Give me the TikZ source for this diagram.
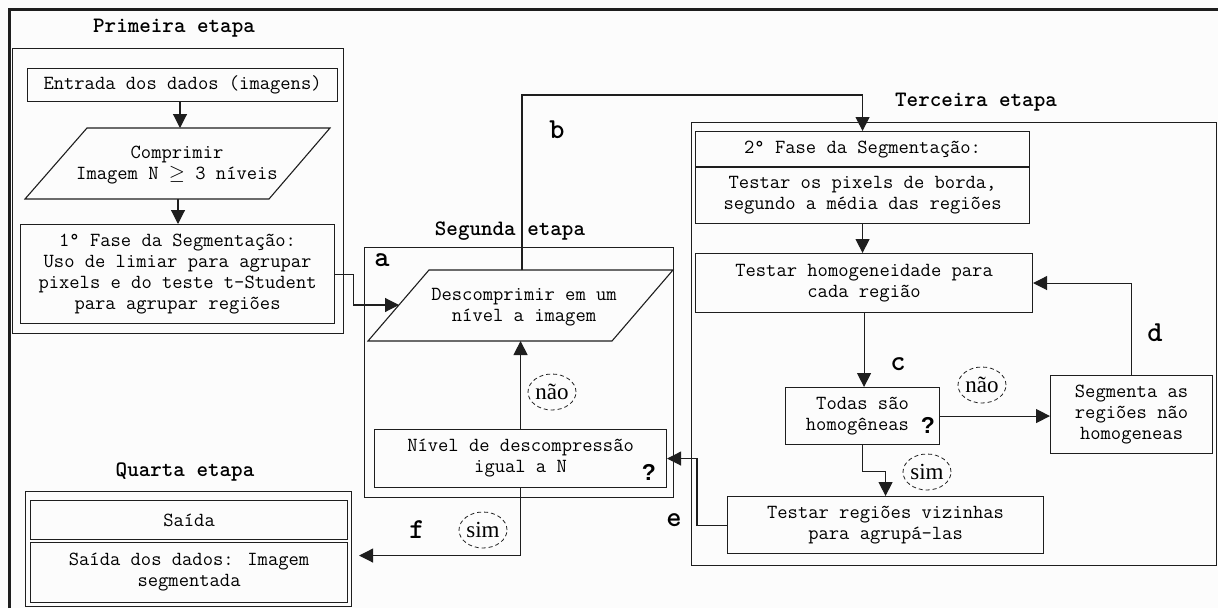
\documentclass[tikz,border=0pt]{standalone}
\usepackage{fontspec}
\usetikzlibrary{arrows.meta,shapes.geometric}
\newfontfamily\qfont{Liberation Sans}
\newfontfamily\serifb{Liberation Serif}
\definecolor{ln}{HTML}{1E1E1E}
\definecolor{bg}{HTML}{FCFCFC}
\begin{document}
\begin{tikzpicture}[x=1pt,y=-1pt,
  every node/.style={font=\ttfamily\fontsize{20}{21}\selectfont, text=black},
  box/.style={draw=ln, line width=1.1pt, inner sep=0pt, align=center, anchor=north west},
  frame/.style={draw=ln, line width=1.1pt, inner sep=0pt, anchor=north west},
  para/.style={draw=ln, line width=1.1pt},
  title/.style={font=\ttfamily\bfseries\fontsize{22}{22}\selectfont},
  lbl/.style={font=\ttfamily\bfseries\fontsize{29}{29}\selectfont},
  qm/.style={font=\qfont\bfseries\fontsize{23}{23}\selectfont},
  ell/.style={draw=ln, dashed, dash pattern=on 4pt off 3pt, ellipse, minimum width=48pt, minimum height=36pt, inner sep=0pt, line width=0.8pt, font=\serifb\fontsize{23}{23}\selectfont},
  conn/.style={draw=ln, line width=1.1pt, -{Triangle[width=14pt,length=14pt]}}
]
\fill[bg] (0,0) rectangle (1218,608);
\useasboundingbox (0,0) rectangle (1218,608);
\draw[line width=3pt, ln] (9,608) -- (9,9) -- (1218,9);

% ---------- Primeira etapa
\node[title] (primT) at (174,28) {Primeira etapa};
\node[frame, minimum width=331pt, minimum height=285pt] (prim) at (12,48) {};
\node[box, minimum width=310pt, minimum height=33pt] (entrada) at (27,68) {Entrada dos dados (imagens)};
\draw[para] (87,128) -- (330,128) -- (269,199) -- (25,199) -- cycle;
\node[align=center] (comp) at (177,165) {Comprimir\\Imagem N \smash{$\geq$} 3 níveis};
\coordinate (ctop) at (180,128);
\coordinate (cbot) at (178,199);
\node[box, minimum width=314pt, minimum height=99pt] (fase1) at (20,224) {1° Fase da Segmentação:\\Uso de limiar para agrupar\\pixels e do teste t-Student\\para agrupar regiões};

% ---------- Segunda etapa
\node[title] (segT) at (510,231) {Segunda etapa};
\node[frame, minimum width=309pt, minimum height=250pt] (seg) at (364,247) {};
\node[lbl] (la) at (382,260) {a};
\draw[para] (429,270) -- (673,270) -- (612,341) -- (368,341) -- cycle;
\node[align=center] (desc) at (524,307) {Descomprimir em um\\nível a imagem};
\coordinate (dleft) at (399,305);
\coordinate (dtop) at (522,270);
\coordinate (dbot) at (521,341);
\node[box, minimum width=292pt, minimum height=58pt] (nivel) at (374,429) {Nível de descompressão\\igual a N};
\node[qm] (q1) at (649,472) {?};
\node[ell] (nao1) at (552,392) {não};
\node[ell] (sim1) at (483,530) {sim};
\node[lbl] (lb) at (557,130) {b};
\node[lbl] (lf) at (417,530) {f};
\coordinate (btop) at (0,95);

% ---------- Quarta etapa
\node[title] (quartaT) at (185,472) {Quarta etapa};
\node[frame, minimum width=326pt, minimum height=115pt] (quarta) at (25,491) {};
\node[box, minimum width=317pt, minimum height=39pt] (saida) at (30,500) {Saída};
\node[box, minimum width=317pt, minimum height=60pt] (saida2) at (30,542) {Saída dos dados: Imagem\\segmentada};

% ---------- Terceira etapa
\node[title] (tercT) at (976,102) {Terceira etapa};
\node[frame, minimum width=525pt, minimum height=443pt] (terc) at (691,122) {};
\node[box, minimum width=334pt, minimum height=36pt] (f2a) at (695,131) {2° Fase da Segmentação:};
\node[box, minimum width=334pt, minimum height=56pt] (f2b) at (695,167) {Testar os pixels de borda,\\segundo a média das regiões};
\draw[ln, line width=2.2pt] (f2b.north west) -- (f2b.north east);
\node[box, minimum width=337pt, minimum height=59pt] (homog) at (695,253) {Testar homogeneidade para\\cada região};
\node[lbl] (lc) at (898,364) {c};
\node[box, minimum width=154pt, minimum height=57pt] (todas) at (785,387) {Todas são\\homogêneas\phantom{x}};
\node[qm] (q2) at (928,425) {?};
\node[ell] (nao2) at (982,385) {não};
\node[box, minimum width=162pt, minimum height=78pt] (segm) at (1050,375) {Segmenta as\\regiões não\\homogeneas};
\node[lbl] (ld) at (1155,333) {d};
\node[ell] (sim2) at (927,472) {sim};
\node[box, minimum width=316pt, minimum height=57pt] (viz) at (727,496) {Testar regiões vizinhas\\para agrupá-las};
\node[lbl] (le) at (674,520) {e};

% ---------- connectors
\draw[conn] (entrada.south -| ctop) -- (ctop);
\draw[conn] (cbot) -- (cbot |- fase1.north);
\draw[conn] (fase1.east) -- ++(18,0) |- (dleft);
\draw[conn] (dtop) -- (dtop |- btop) -| (f2a.north);
\draw[conn] (nivel.north) -- (nivel.north |- dbot);
\draw[conn] (nivel.south) |- ([xshift=7pt,yshift=-6.5pt]quarta.east);
\draw[conn] (f2b.south) -- (f2b.south |- homog.north);
\draw[conn] (homog.south) -- (homog.south |- todas.north);
\draw[conn] (todas.east) -- (todas.east -| segm.west);
\draw[conn] (segm.north) |- (homog.east);
\draw[conn] (todas.south) -- ++(0,26) -| (viz.north);
\draw[conn] (viz.west) -- ++(-30,0) |- (nivel.east);
\end{tikzpicture}
\end{document}
